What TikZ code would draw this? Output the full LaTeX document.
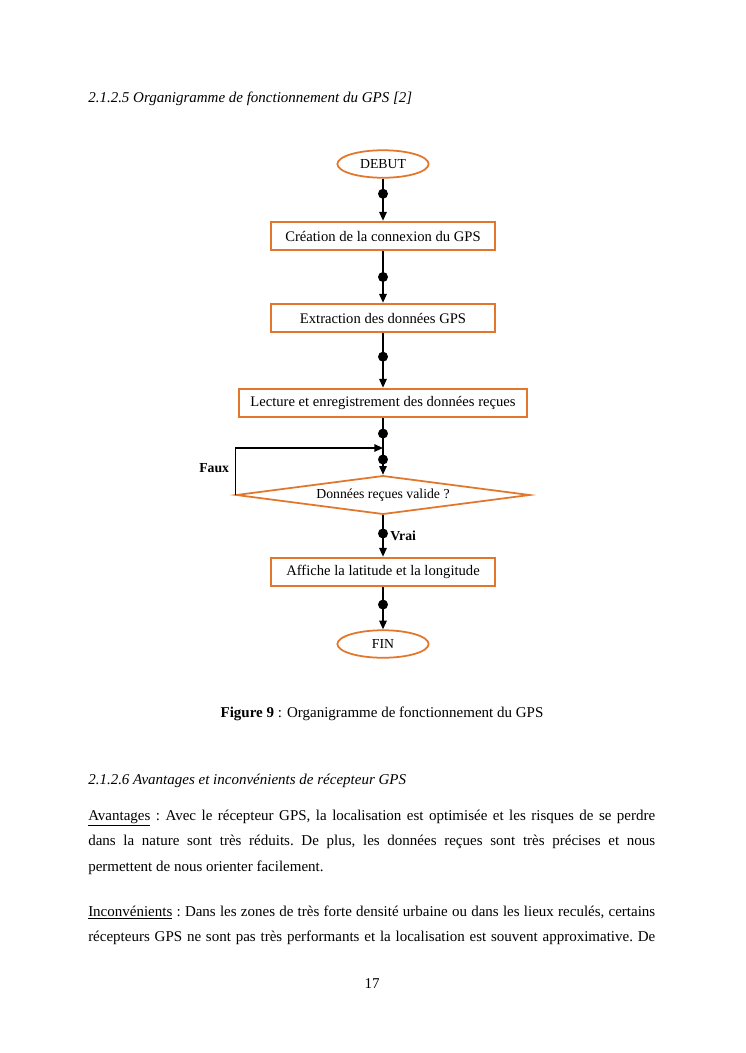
\documentclass[tikz,border=0pt]{standalone}
\usepackage{fontspec}
\setmainfont{Liberation Serif}
\usepackage{tikz}
\usetikzlibrary{shapes.geometric, arrows.meta, positioning}

\definecolor{gpsorange}{RGB}{226,118,42}
\newcommand{\chartfont}{\fontsize{11.7}{14}\selectfont}
\newcommand{\bodyfont}{\fontsize{12}{20.4}\selectfont\frenchspacing}

\begin{document}
\begin{tikzpicture}[x=0.8pt, y=-0.8pt,
  stepbox/.style={draw=gpsorange, line width=1.5pt, rectangle, minimum width=#1, minimum height=23pt, inner sep=2pt, font=\chartfont},
  stepbox/.default=179pt,
  term/.style={draw=gpsorange, line width=1.4pt, ellipse, minimum width=73pt, minimum height=22pt, inner sep=0pt, font=\fontsize{11}{13}\selectfont},
  test/.style={draw=gpsorange, line width=1.4pt, diamond, aspect=7.5, minimum width=235pt, minimum height=31pt, inner sep=0pt, font=\fontsize{11}{13}\selectfont},
  arr/.style={-{Triangle[length=7pt,width=6pt]}, line width=1.2pt},
  dot/.style={circle, fill=black, inner sep=0pt, minimum size=8pt},
  lbl/.style={font=\fontsize{11}{13}\selectfont\bfseries, inner sep=0pt}
]

\fill[white] (0,0) rectangle (745,1053);
\useasboundingbox (0,0) rectangle (745,1053);

% page text
\node[anchor=base west, inner sep=0pt, font=\fontsize{12}{14}\selectfont\itshape] (title) at (88,102) {2.1.2.5 Organigramme de fonctionnement du GPS [2]};

% flowchart
\node[term] (debut) at (383,164) {DEBUT};
\node[stepbox] (b1) at (383,236) {Création de la connexion du GPS};
\node[stepbox] (b2) at (383,318) {Extraction des données GPS};
\node[stepbox=230.4pt] (b3) at (383,403) {Lecture et enregistrement des données reçues};
\node[test] (valid) at (383,495) {Données reçues valide ?};
\node[stepbox] (b4) at (383,572) {Affiche la latitude et la longitude};
\node[term] (fin) at (383,644) {FIN};
\coordinate (merge) at (383,448);

\draw[arr] (debut) -- node[dot, pos=.36] (d1) {} (b1);
\draw[arr] (b1) -- node[dot, pos=.5] (d2) {} (b2);
\draw[arr] (b2) -- node[dot, pos=.43] (d3) {} (b3);
\draw[arr] (b3) -- node[dot, pos=.27] (d4) {} node[dot, pos=.73] (d5) {} (valid);
\draw[arr] (valid.west) |- (merge);
\draw[arr] (valid) -- node[dot, pos=.44] (d6) {} (b4);
\draw[arr] (b4) -- node[dot, pos=.41] (d7) {} (fin);

\node[lbl, anchor=base west] (faux) at (199,472) {Faux};
\node[lbl, anchor=west, right=1pt of d6, yshift=-2pt] (vrai) {Vrai};

% caption and body
\node[anchor=base, inner sep=0pt, font=\fontsize{12}{14}\selectfont] (caption) at (382,717) {\textbf{Figure 9} : Organigramme de fonctionnement du GPS};
\node[anchor=base west, inner sep=0pt, font=\fontsize{12}{14}\selectfont\itshape] (title2) at (88,784) {2.1.2.6 Avantages et inconvénients de récepteur GPS};

\node[anchor=north west, inner sep=0pt, text width=453.6pt, align=justify, font=\bodyfont] (para1) at ([yshift=14.28pt]88,820)
  {\strut\underline{Avantages} : Avec le récepteur GPS, la localisation est optimisée et les risques de se perdre\linebreak
   dans la nature sont très réduits. De plus, les données reçues sont très précises et nous\linebreak
   permettent de nous orienter facilement.};
\node[anchor=north west, inner sep=0pt, text width=453.6pt, align=justify, font=\bodyfont] (para2) at ([yshift=14.28pt]88,916)
  {\parfillskip=0pt\strut\underline{Inconvénients} : Dans les zones de très forte densité urbaine ou dans les lieux reculés, certains\linebreak
   récepteurs GPS ne sont pas très performants et la localisation est souvent approximative. De\par};

\node[anchor=base, inner sep=0pt, font=\fontsize{12}{14}\selectfont] (pagenum) at (372,988) {17};

\end{tikzpicture}
\end{document}
